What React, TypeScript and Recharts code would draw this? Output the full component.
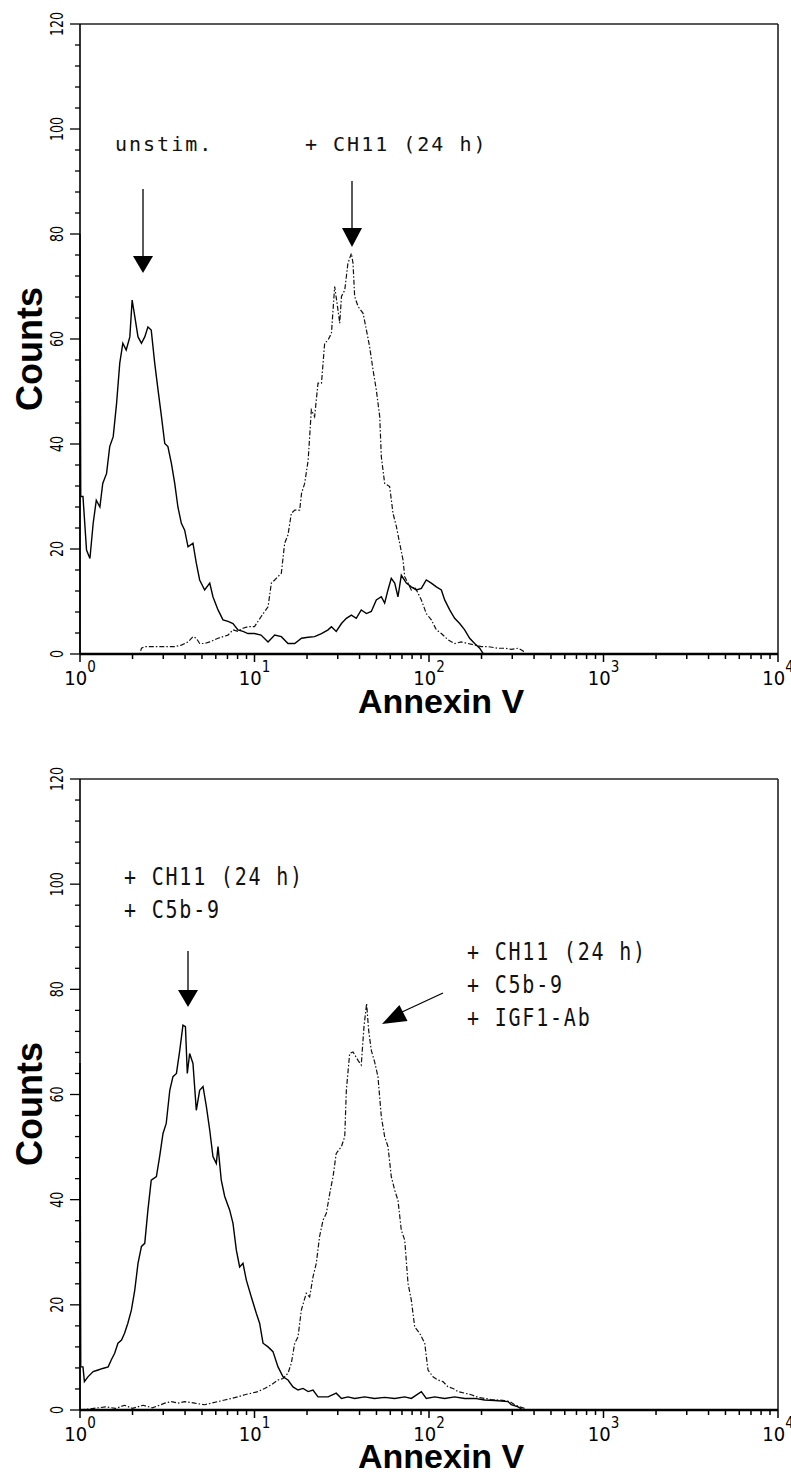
import React from 'react';
import { LineChart, Line, XAxis, YAxis, ReferenceLine } from 'recharts';

// Annexin V histograms: [fluorescence, counts]
const unstim = [
  [1, 0], [1, 80], [1.01, 30], [1.04, 30], [1.09, 19.8], [1.14, 18.2], [1.19, 24.9], [1.24, 29.3],
  [1.3, 28], [1.35, 32.5], [1.42, 34.4], [1.48, 39.5], [1.55, 41.4], [1.62, 47.7], [1.69, 55.4],
  [1.76, 59.2], [1.84, 57.9], [1.93, 60.4], [1.99, 67.4], [2.06, 64.3], [2.15, 60.4], [2.25, 59.2],
  [2.35, 60.4], [2.45, 62.3], [2.56, 61.7], [2.68, 55.4], [2.8, 50.3], [2.93, 45.2], [3.06, 40.1],
  [3.19, 39.5], [3.34, 36.3], [3.49, 32.5], [3.64, 28], [3.81, 24.9], [3.98, 23.6], [4.16, 20.4],
  [4.44, 21.1], [4.64, 17.3], [4.85, 14.1], [5.18, 12.2], [5.54, 13.5], [5.78, 10.9], [6.18, 8.4],
  [6.6, 6.5], [7.05, 6.2], [7.53, 5.8], [8.04, 4.6], [8.59, 4.3], [9.18, 3.9], [10, 3.9], [10.9, 3.6],
  [11.96, 2.3], [13.05, 3.6], [14.25, 3.3], [15.56, 2], [17, 2], [18.6, 3], [20.3, 3.2], [22.1, 3.3],
  [24.2, 3.9], [26.4, 4.6], [27.6, 5.2], [29.4, 4.3], [31.5, 5.8], [33.6, 6.8], [35.9, 7.4], [38.3, 6.8],
  [40.9, 8.4], [43.8, 7.7], [46.7, 8.1], [49.9, 10.3], [53.3, 10.9], [55.7, 9.7], [58.2, 12.2],
  [60.8, 14.4], [63.6, 13.5], [66.4, 10.9], [69.4, 15], [74.2, 13.5], [79.2, 12.8], [84.6, 12.2],
  [90.4, 12.5], [96.5, 14.1], [103.1, 13.5], [110.2, 12.8], [117.7, 12.2], [123, 10.3], [131.4, 8.4],
  [140.3, 6.8], [149.9, 5.8], [160.1, 4.6], [171, 3], [182.7, 2], [195.2, 1.1], [204, 0.1], [213, 0],
];

const ch11 = [
  [1, 0], [2.2, 0], [2.25, 1.1], [2.35, 1.4], [2.68, 1.4], [3.06, 1.4], [3.49, 1.4], [3.81, 1.7],
  [4.16, 2.3], [4.44, 3.3], [4.64, 3], [4.85, 2], [5.18, 2], [5.54, 2.3], [6.18, 3], [6.6, 3.3],
  [7.05, 3.6], [7.53, 4.6], [8.04, 4.3], [8.59, 4.9], [9.18, 5.2], [10, 5.2], [10.9, 7.1], [11.96, 9],
  [12.49, 13.5], [13.05, 14.1], [14.25, 15.4], [14.89, 21.1], [15.56, 22.7], [16.26, 26.8], [17, 27.4],
  [18.15, 27.4], [18.6, 30.6], [19.39, 32.5], [20.3, 36.9], [21.17, 46.5], [22.1, 45.2], [23.12, 51.6],
  [24.2, 51.6], [25.24, 59.2], [26.4, 59.8], [27.6, 61.1], [28.8, 70], [30.1, 65.5], [30.8, 63],
  [31.5, 68.1], [32.9, 69.3], [34.3, 74.4], [35.9, 76.3], [36.7, 74.4], [37.5, 68.1], [39.2, 66.2],
  [41.9, 64.9], [43.8, 61.7], [45.7, 58.5], [47.8, 54.1], [49.9, 50.3], [52.2, 45.2], [53.3, 37.6],
  [55.7, 32.5], [59.5, 31.9], [62.2, 26.8], [65, 24.3], [67.9, 21.1], [71, 17.9], [72.6, 14.7],
  [75.8, 13.5], [79.2, 12.2], [82.8, 12.8], [86.5, 11.6], [90.4, 10.3], [96.5, 7.7], [103.1, 6.5],
  [110.2, 4.6], [117.7, 3.9], [128.5, 2.7], [140.3, 2], [153.2, 2.3], [167.3, 2], [182.7, 1.7],
  [199.5, 1.4], [217.8, 1.4], [249, 1.1], [271, 1.1], [296, 0.9], [324, 1.1], [346, 0.6], [353, 0],
];

const c5b9 = [
  [1, 0], [1, 66], [1.01, 8.2], [1.04, 8.2], [1.06, 5.4], [1.11, 6.3], [1.19, 7.3], [1.27, 7.6],
  [1.35, 7.9], [1.45, 8.2], [1.51, 9.5], [1.58, 10.8], [1.65, 12.7], [1.73, 13.3], [1.8, 14.6],
  [1.88, 16.5], [1.97, 19], [2.06, 22.8], [2.15, 27.9], [2.25, 31.1], [2.35, 31.7], [2.45, 38],
  [2.56, 43.7], [2.74, 44.4], [2.86, 48.2], [2.99, 52.6], [3.12, 54.5], [3.27, 60.8], [3.41, 63.4],
  [3.57, 64], [3.73, 68.4], [3.89, 73.2], [4.02, 72.9], [4.12, 64], [4.25, 67.8], [4.44, 65.9],
  [4.64, 57], [4.85, 60.8], [5.07, 61.5], [5.3, 57.7], [5.54, 53.2], [5.78, 48.2], [6.04, 46.9],
  [6.18, 50.1], [6.45, 43.7], [6.75, 40.6], [7.21, 38], [7.53, 35.5], [7.87, 30.4], [8.22, 27.2],
  [8.59, 27.9], [8.98, 24.7], [9.59, 21.5], [10.24, 18.4], [10.7, 16.5], [11.19, 12.7], [11.96, 12],
  [12.76, 11.1], [13.64, 8.2], [14.57, 6.3], [15.56, 5.7], [16.62, 4.4], [17.76, 3.8], [18.97, 4.1],
  [20.3, 3.5], [21.64, 3.8], [23.12, 2.5], [26.4, 2.5], [29.4, 3.2], [31.5, 2.2], [34.3, 2.5],
  [37.5, 2.2], [42.8, 2.5], [48.8, 2.2], [55.7, 2.4], [63.6, 2.2], [72.6, 2.5], [79.2, 2.2],
  [90.4, 3.5], [96.5, 2.2], [107.8, 2.5], [123, 2.2], [140.3, 2.5], [160.1, 2.2], [182.7, 2.2],
  [208.4, 1.9], [237.9, 1.8], [283.7, 1.6], [296, 1], [323.6, 0.6], [345.7, 0],
];

const igf1Ab = [
  [1, 0], [1.2, 0.3], [1.4, 0.6], [1.6, 0.3], [1.8, 0.9], [2, 0.3], [2.3, 0.9], [2.6, 0.4], [2.9, 1],
  [3.06, 1.3], [3.34, 1.6], [3.64, 1.3], [3.98, 1.6], [4.54, 1.3], [5.18, 1], [5.66, 1.3], [6.18, 1.6],
  [6.75, 1.9], [7.36, 2.2], [8.04, 2.5], [8.78, 2.9], [9.59, 3.2], [10.47, 3.5], [11.44, 4.1],
  [12.49, 4.8], [13.64, 5.7], [14.57, 6], [15.56, 7], [16.26, 8.9], [17, 12.7], [17.76, 13.9],
  [18.55, 19], [19.8, 22.2], [20.7, 21.5], [21.64, 25.3], [22.6, 27.9], [23.6, 33], [24.7, 36.1],
  [25.8, 37.4], [27, 41.2], [28.2, 44.4], [29.4, 48.8], [31.5, 50.1], [32.9, 52], [33.6, 60.8],
  [35.1, 67.8], [36.7, 68.1], [39.2, 66.5], [40.9, 65.6], [42.4, 72.9], [43.9, 77.3], [45.1, 72.2],
  [46.7, 68.4], [48.8, 66.2], [51, 63.4], [53.3, 55.8], [55.7, 52], [58.2, 50.1], [60.8, 44.4],
  [63.6, 41.8], [66.4, 39.9], [69.4, 34.2], [72.6, 32.3], [75.8, 24.1], [79.2, 20.9], [82.8, 15.8],
  [88.4, 14.6], [94.5, 12.7], [98.7, 7.6], [105.4, 6.3], [112.6, 5.7], [120.3, 5.4], [128.5, 4.4],
  [137.2, 4.1], [146.6, 3.5], [160.1, 3.2], [174.8, 2.9], [190.9, 2.4], [208.4, 2.2], [227.6, 2],
  [248.6, 1.9], [271.4, 1.8], [290, 1.6], [309.7, 1], [330.9, 0.6], [353.4, 0.3],
];

const xTicks = [
  1, 2, 3, 4, 5, 6, 7, 8, 9, 10, 20, 30, 40, 50, 60, 70, 80, 90, 100, 200, 300, 400, 500, 600, 700,
  800, 900, 1000, 2000, 3000, 4000, 5000, 6000, 7000, 8000, 9000, 10000,
];
const yTicks = [
  0, 4, 8, 12, 16, 20, 24, 28, 32, 36, 40, 44, 48, 52, 56, 60, 64, 68, 72, 76, 80, 84, 88, 92, 96,
  100, 104, 108, 112, 116, 120,
];

const tickFont = "'Liberation Sans Narrow', 'Arial Narrow', 'DejaVu Sans Condensed', sans-serif";
const titleFont = "'Liberation Sans', Arial, Helvetica, sans-serif";
const noteFont = "'DejaVu Sans Mono', 'Liberation Mono', monospace";

const toPoints = (rows: number[][]) => rows.map(([x, y]) => ({ x, y }));

function XTick({ x, y, payload }: any) {
  const v = payload.value;
  const exp = Math.round(Math.log10(v));
  const decade = Math.abs(Math.pow(10, exp) - v) < 1e-6;
  return (
    <g>
      <line x1={x} y1={y} x2={x} y2={y + (decade ? 8 : 5)} stroke="#000" strokeWidth={1.5} />
      {decade && (
        <text x={x} y={y + 31} textAnchor="middle" fontFamily={tickFont} fontSize={20} fill="#000">
          10
          <tspan dy={-13} fontSize={15}>{exp}</tspan>
        </text>
      )}
    </g>
  );
}

function YTick({ x, y, payload }: any) {
  const v = payload.value;
  const major = v % 20 === 0;
  return (
    <g>
      <line x1={x} y1={y} x2={x - (major ? 10 : 5)} y2={y} stroke="#000" strokeWidth={1.3} />
      {major && (
        <text
          transform={`translate(${x - 17},${y}) rotate(-90) scale(1,1.3)`}
          textAnchor="middle"
          fontFamily={tickFont}
          fontSize={14}
          fill="#000"
        >
          {v}
        </text>
      )}
    </g>
  );
}

function DownArrow({ x, from, to, head }: { x: number; from: number; to: number; head: number }) {
  return (
    <g>
      <line x1={x} y1={from} x2={x} y2={to - head + 2} stroke="#000" strokeWidth={1.3} />
      <polygon points={`${x - 10},${to - head} ${x + 10},${to - head} ${x},${to}`} fill="#000" />
    </g>
  );
}

function Note({ x, y, lines, stretch, spacing }: { x: number; y: number; lines: string[]; stretch: number; spacing: number }) {
  return (
    <g>
      {lines.map((t, i) => (
        <text
          key={t + i}
          transform={`translate(${x},${y + i * 33}) scale(1,${stretch})`}
          fontFamily={noteFont}
          fontSize={20}
          letterSpacing={spacing}
          fill="#111"
          xmlSpace="preserve"
        >
          {t}
        </text>
      ))}
    </g>
  );
}

function Panel({ solid, dashed, height, bottom, children }: any) {
  return (
    <div style={{ position: 'relative', width: 791, height }}>
      <LineChart width={791} height={height} margin={{ top: 24, right: 13, left: 20, bottom }}>
        <XAxis
          type="number"
          dataKey="x"
          scale="log"
          domain={[1, 10000]}
          ticks={xTicks}
          interval={0}
          tickSize={0}
          tickMargin={0}
          height={60}
          tick={<XTick />}
          axisLine={{ stroke: '#000', strokeWidth: 2.5 }}
        />
        <YAxis
          type="number"
          dataKey="y"
          domain={[0, 120]}
          ticks={yTicks}
          interval={0}
          tickSize={0}
          tickMargin={0}
          width={60}
          tick={<YTick />}
          axisLine={{ stroke: '#000', strokeWidth: 1.6 }}
        />
        <ReferenceLine y={120} stroke="#222" strokeWidth={1.6} />
        <ReferenceLine x={10000} stroke="#222" strokeWidth={1.6} />
        <Line
          data={toPoints(dashed)}
          dataKey="y"
          type="linear"
          stroke="#111"
          strokeWidth={1.2}
          strokeDasharray="5 2 1.5 2"
          dot={false}
          isAnimationActive={false}
        />
        <Line
          data={toPoints(solid)}
          dataKey="y"
          type="linear"
          stroke="#000"
          strokeWidth={1.4}
          dot={false}
          isAnimationActive={false}
        />
      </LineChart>
      <svg width={791} height={height} style={{ position: 'absolute', left: 0, top: 0, pointerEvents: 'none' }}>
        <text
          transform="translate(42,349) rotate(-90)"
          textAnchor="middle"
          fontFamily={titleFont}
          fontWeight="bold"
          fontSize={36}
          fill="#000"
        >
          Counts
        </text>
        <text x={441} y={713} textAnchor="middle" fontFamily={titleFont} fontWeight="bold" fontSize={34} fill="#000">
          Annexin V
        </text>
        {children}
      </svg>
    </div>
  );
}

export default function App() {
  return (
    <div style={{ position: 'relative', width: 791, height: 1475, background: '#fff', overflow: 'hidden' }}>
      <style>{'body{margin:0;background:#fff}'}</style>
      <div style={{ position: 'absolute', left: 0, top: 0 }}>
        <Panel solid={unstim} dashed={ch11} height={730} bottom={16}>
          <Note x={115} y={151} lines={['unstim.']} stretch={1} spacing={2} />
          <Note x={305} y={151} lines={['+ CH11 (24 h)']} stretch={1} spacing={2} />
          <DownArrow x={143} from={189} to={273} head={17} />
          <DownArrow x={352} from={181} to={247} head={19} />
        </Panel>
      </div>
      <div style={{ position: 'absolute', left: 0, top: 755 }}>
        <Panel solid={c5b9} dashed={igf1Ab} height={720} bottom={5}>
          <Note x={124} y={130} lines={['+ CH11 (24 h)', '+ C5b-9']} stretch={1.25} spacing={1.8} />
          <Note x={467} y={205} lines={['+ CH11 (24 h)', '+ C5b-9', '+ IGF1-Ab']} stretch={1.25} spacing={1.8} />
          <DownArrow x={188} from={196} to={252} head={17} />
          <line x1={443} y1={238} x2={402} y2={257} stroke="#000" strokeWidth={1.3} />
          <polygon points="382,269 407.5,266 399.4,250" fill="#000" />
        </Panel>
      </div>
    </div>
  );
}
